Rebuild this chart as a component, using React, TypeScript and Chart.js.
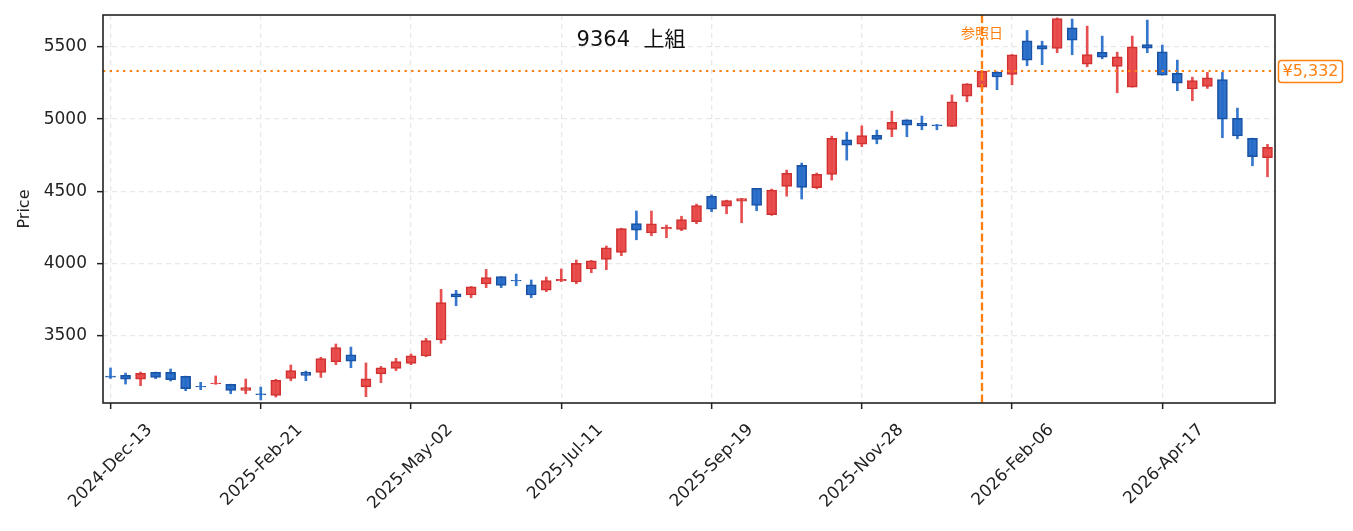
import { useEffect, useRef } from 'react';
import { Chart, registerables } from 'chart.js';

Chart.register(...registerables);

const dates = [
  '2024-12-13', '2024-12-20', '2024-12-27', '2025-01-03', '2025-01-10', '2025-01-17', '2025-01-24', '2025-01-31',
  '2025-02-07', '2025-02-14', '2025-02-21', '2025-02-28', '2025-03-07', '2025-03-14', '2025-03-21', '2025-03-28',
  '2025-04-04', '2025-04-11', '2025-04-18', '2025-04-25', '2025-05-02', '2025-05-09', '2025-05-16', '2025-05-23',
  '2025-05-30', '2025-06-06', '2025-06-13', '2025-06-20', '2025-06-27', '2025-07-04', '2025-07-11', '2025-07-18',
  '2025-07-25', '2025-08-01', '2025-08-08', '2025-08-15', '2025-08-22', '2025-08-29', '2025-09-05', '2025-09-12',
  '2025-09-19', '2025-09-26', '2025-10-03', '2025-10-10', '2025-10-17', '2025-10-24', '2025-10-31', '2025-11-07',
  '2025-11-14', '2025-11-21', '2025-11-28', '2025-12-05', '2025-12-12', '2025-12-19', '2025-12-26', '2026-01-02',
  '2026-01-09', '2026-01-16', '2026-01-23', '2026-01-30', '2026-02-06', '2026-02-13', '2026-02-20', '2026-02-27',
  '2026-03-06', '2026-03-13', '2026-03-20', '2026-03-27', '2026-04-03', '2026-04-10', '2026-04-17', '2026-04-24',
  '2026-05-01', '2026-05-08', '2026-05-15', '2026-05-22', '2026-05-29', '2026-06-05',
];

const opens = [
  3222, 3227, 3200, 3248, 3248, 3220, 3151, 3169, 3165, 3123, 3099, 3089, 3206, 3248, 3248, 3320,
  3370, 3147, 3237, 3276, 3310, 3361, 3472, 3792, 3783, 3859, 3910, 3884, 3854, 3817, 3880, 3873,
  3963, 4029, 4078, 4278, 4212, 4240, 4237, 4290, 4465, 4398, 4433, 4521, 4338, 4534, 4680, 4525,
  4617, 4857, 4826, 4887, 4929, 4995, 4970, 4961, 4950, 5159, 5220, 5325, 5309, 5542, 5509, 5489,
  5632, 5380, 5461, 5364, 5221, 5516, 5466, 5316, 5208, 5226, 5274, 5005, 4866, 4733,
];

const highs = [
  3278, 3243, 3250, 3250, 3271, 3222, 3179, 3223, 3166, 3202, 3146, 3200, 3299, 3257, 3352, 3444,
  3423, 3313, 3289, 3345, 3375, 3483, 3822, 3815, 3842, 3960, 3910, 3928, 3887, 3907, 3963, 4025,
  4022, 4122, 4245, 4364, 4364, 4267, 4328, 4412, 4476, 4439, 4452, 4521, 4516, 4647, 4696, 4627,
  4882, 4910, 4953, 4924, 5055, 4995, 5021, 4963, 5167, 5245, 5335, 5327, 5447, 5613, 5539, 5700,
  5692, 5643, 5574, 5463, 5574, 5685, 5512, 5408, 5290, 5323, 5323, 5076, 4868, 4825,
];

const lows = [
  3206, 3167, 3156, 3204, 3188, 3121, 3128, 3165, 3100, 3100, 3057, 3077, 3190, 3190, 3213, 3301,
  3280, 3080, 3177, 3260, 3301, 3356, 3449, 3709, 3764, 3834, 3834, 3847, 3764, 3806, 3875, 3861,
  3937, 3958, 4055, 4165, 4193, 4179, 4228, 4276, 4359, 4345, 4283, 4366, 4334, 4467, 4447, 4518,
  4578, 4716, 4809, 4829, 4878, 4878, 4926, 4926, 4949, 5120, 5212, 5203, 5237, 5369, 5376, 5459,
  5445, 5362, 5417, 5182, 5221, 5459, 5304, 5196, 5127, 5212, 4871, 4864, 4677, 4601,
];

const closes = [
  3215, 3200, 3241, 3213, 3197, 3135, 3147, 3174, 3123, 3142, 3093, 3193, 3261, 3227, 3343, 3419,
  3326, 3204, 3280, 3322, 3363, 3467, 3730, 3769, 3840, 3904, 3850, 3880, 3783, 3882, 3891, 4002,
  4020, 4110, 4242, 4232, 4276, 4251, 4305, 4402, 4377, 4436, 4450, 4403, 4509, 4624, 4527, 4617,
  4866, 4820, 4886, 4859, 4977, 4958, 4952, 4952, 5120, 5244, 5332, 5291, 5445, 5408, 5484, 5696,
  5546, 5447, 5429, 5431, 5500, 5491, 5304, 5249, 5267, 5286, 5000, 4883, 4740, 4804,
];

const yTickValues = [3500, 4000, 4500, 5000, 5500];
const xTickEvery = 10;
const refDate = '2026-01-23';
const refPrice = 5332;
const refDateLabel = '参照日';
const refPriceLabel = '¥5,332';
const titleText = '9364  上組';
const yAxisTitle = 'Price';

const MONTHS = ['Jan', 'Feb', 'Mar', 'Apr', 'May', 'Jun', 'Jul', 'Aug', 'Sep', 'Oct', 'Nov', 'Dec'];
function fmtDate(d: string) {
  const [y, m, dd] = d.split('-');
  return `${y}-${MONTHS[Number(m) - 1]}-${dd}`;
}

const FONT = "'DejaVu Sans', 'Noto Sans CJK JP', sans-serif";
const ORANGE = '#ff7f0e';
const RED_FILL = 'rgba(232, 72, 72, 0.95)';
const RED_EDGE = '#d03232';
const RED_WICK = '#e65050';
const BLUE_FILL = 'rgba(38, 108, 200, 0.95)';
const BLUE_EDGE = '#1a52a4';
const BLUE_WICK = '#3577cc';
const GRID = '#e8e8e8';
const INK = '#222222';

const overlayPlugin = {
  id: 'overlayPlugin',
  afterDatasetsDraw(chart: any) {
    const { ctx, chartArea: a, scales } = chart;
    const xr = scales.x.getPixelForValue(dates.indexOf(refDate));
    const yr = scales.y.getPixelForValue(refPrice);
    ctx.save();
    ctx.beginPath();
    ctx.rect(a.left, a.top, a.right - a.left, a.bottom - a.top);
    ctx.clip();
    ctx.strokeStyle = ORANGE;
    ctx.lineWidth = 2;
    ctx.setLineDash([2.3, 4.4]);
    ctx.beginPath();
    ctx.moveTo(a.left, yr);
    ctx.lineTo(a.right, yr);
    ctx.stroke();
    ctx.lineWidth = 2.3;
    ctx.setLineDash([8, 3.5]);
    ctx.beginPath();
    ctx.moveTo(xr, a.top);
    ctx.lineTo(xr, a.bottom);
    ctx.stroke();
    ctx.restore();
  },
  afterDraw(chart: any) {
    const { ctx, chartArea: a, scales } = chart;
    const xr = scales.x.getPixelForValue(dates.indexOf(refDate));
    const yr = scales.y.getPixelForValue(refPrice);
    ctx.save();
    // frame
    ctx.strokeStyle = INK;
    ctx.lineWidth = 1.6;
    ctx.setLineDash([]);
    ctx.strokeRect(a.left, a.top, a.right - a.left, a.bottom - a.top);
    // title
    ctx.fillStyle = '#111111';
    ctx.font = `21px ${FONT}`;
    ctx.textAlign = 'center';
    ctx.textBaseline = 'middle';
    ctx.fillText(titleText, a.left + (a.right - a.left) * 0.4505, a.top + 26);
    // ref date label
    ctx.fillStyle = ORANGE;
    ctx.font = `14px ${FONT}`;
    ctx.fillText(refDateLabel, xr, a.top + 19);
    // ref price label box
    ctx.font = `16px ${FONT}`;
    const tw = ctx.measureText(refPriceLabel).width;
    const bx = a.right + 3.5;
    const bw = tw + 8;
    const bh = 22;
    const by = yr - bh / 2 + 0.5;
    ctx.beginPath();
    (ctx as any).roundRect(bx, by, bw, bh, 3);
    ctx.fillStyle = '#ffffff';
    ctx.fill();
    ctx.strokeStyle = ORANGE;
    ctx.lineWidth = 1.5;
    ctx.stroke();
    ctx.fillStyle = ORANGE;
    ctx.textAlign = 'left';
    ctx.fillText(refPriceLabel, bx + 4, yr + 1);
    ctx.restore();
  },
};

export default function App() {
  const ref = useRef<HTMLCanvasElement | null>(null);

  useEffect(() => {
    if (!ref.current) return;
    const up = opens.map((o, i) => closes[i] >= o);
    const chart = new Chart(ref.current, {
      type: 'bar',
      data: {
        labels: dates,
        datasets: [
          {
            label: 'body',
            data: opens.map((o, i) => [o, closes[i]]) as any,
            backgroundColor: up.map((u) => (u ? RED_FILL : BLUE_FILL)),
            borderColor: up.map((u) => (u ? RED_EDGE : BLUE_EDGE)),
            borderWidth: 1.5,
            borderSkipped: false,
            barThickness: 10,
            grouped: false,
            order: 0,
          },
          {
            label: 'wick',
            data: lows.map((l, i) => [l, highs[i]]) as any,
            backgroundColor: up.map((u) => (u ? RED_WICK : BLUE_WICK)),
            borderWidth: 0,
            barThickness: 2,
            grouped: false,
            order: 1,
          },
        ],
      },
      options: {
        animation: false,
        responsive: false,
        maintainAspectRatio: false,
        devicePixelRatio: 1,
        layout: { padding: { top: 15, right: 78, left: 0, bottom: 0 } },
        plugins: {
          legend: { display: false },
          tooltip: { enabled: false },
          title: { display: false },
        },
        font: { family: FONT },
        scales: {
          x: {
            type: 'category',
            offset: true,
            afterFit: (s: any) => {
              s.height = 128;
              s.paddingLeft = 0;
              s.paddingRight = 0;
            },
            grid: {
              offset: false,
              color: (c: any) => (c.index % xTickEvery === 0 ? GRID : 'rgba(0,0,0,0)'),
              tickColor: (c: any) => (c.index % xTickEvery === 0 ? INK : 'rgba(0,0,0,0)'),
              lineWidth: 1.3,
              tickLength: 6,
              tickWidth: 1.5,
            },
            border: { display: false, dash: [5, 4] },
            ticks: {
              autoSkip: false,
              minRotation: 45,
              maxRotation: 45,
              padding: 11,
              labelOffset: 39,
              color: INK,
              font: { family: FONT, size: 17 },
              callback: (_v: any, i: number) => (i % xTickEvery === 0 ? fmtDate(dates[i]) : ''),
            },
          },
          y: {
            type: 'linear',
            min: 3036,
            max: 5720,
            afterFit: (s: any) => {
              s.width = 103;
              s.paddingTop = 0;
              s.paddingBottom = 0;
            },
            afterBuildTicks: (s: any) => {
              s.ticks = yTickValues.map((v) => ({ value: v }));
            },
            grid: {
              color: GRID,
              tickColor: INK,
              lineWidth: 1.3,
              tickLength: 6,
              tickWidth: 1.5,
            },
            border: { display: false, dash: [5, 4] },
            ticks: {
              includeBounds: false,
              padding: 10,
              color: INK,
              font: { family: FONT, size: 17 },
              callback: (v: any) => String(v),
            },
            title: {
              display: true,
              text: yAxisTitle,
              color: INK,
              font: { family: FONT, size: 16 },
              padding: { top: 15, bottom: 0 },
            },
          },
        },
      } as any,
      plugins: [overlayPlugin],
    });
    return () => chart.destroy();
  }, []);

  return (
    <div style={{ position: 'absolute', left: 0, top: 0, width: 1353, height: 531 }}>
      <canvas ref={ref} width={1353} height={531} style={{ width: 1353, height: 531, display: 'block' }} />
    </div>
  );
}
